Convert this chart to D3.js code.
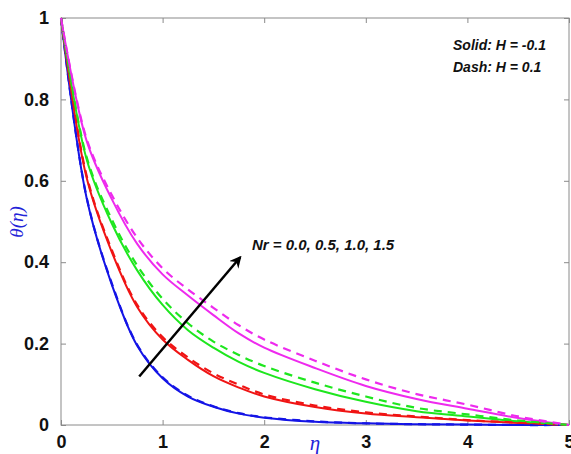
<!DOCTYPE html>
<html>
<head>
<meta charset="utf-8">
<script src="https://cdn.jsdelivr.net/npm/d3@7"></script>
<style>
  body { margin: 0; background: #fff; }
  svg { display: block; }
</style>
</head>
<body>
<svg id="chart" width="571" height="454"></svg>
<script>
// eta grid
const eta = [0, 0.25, 0.5, 0.75, 1, 1.25, 1.5, 1.75, 2, 2.5, 3, 3.5, 4, 4.5, 5];

// Solid: H = -0.1
const nr00Solid = [1, 0.56, 0.345, 0.195, 0.115, 0.07, 0.045, 0.028, 0.018, 0.008, 0.004, 0.002, 0.001, 0, 0];
const nr05Solid = [1, 0.61, 0.425, 0.29, 0.21, 0.16, 0.12, 0.092, 0.07, 0.044, 0.028, 0.019, 0.011, 0.005, 0];
const nr10Solid = [1, 0.655, 0.495, 0.38, 0.295, 0.233, 0.19, 0.155, 0.128, 0.088, 0.057, 0.034, 0.021, 0.009, 0];
const nr15Solid = [1, 0.7, 0.555, 0.445, 0.37, 0.318, 0.27, 0.225, 0.19, 0.14, 0.096, 0.064, 0.04, 0.017, 0];

// Dash: H = 0.1
const nr00Dash = [1, 0.562, 0.348, 0.197, 0.117, 0.072, 0.046, 0.029, 0.019, 0.009, 0.004, 0.002, 0.001, 0, 0];
const nr05Dash = [1, 0.615, 0.43, 0.295, 0.216, 0.166, 0.127, 0.099, 0.075, 0.048, 0.031, 0.021, 0.012, 0.006, 0];
const nr10Dash = [1, 0.66, 0.505, 0.392, 0.31, 0.25, 0.205, 0.172, 0.145, 0.104, 0.07, 0.042, 0.026, 0.011, 0];
const nr15Dash = [1, 0.705, 0.565, 0.46, 0.385, 0.333, 0.288, 0.245, 0.21, 0.158, 0.112, 0.076, 0.05, 0.021, 0];

const seriesColors = ["#1414e6", "#f01414", "#1ee61e", "#ee2aee"];
const solidSeries = [nr00Solid, nr05Solid, nr10Solid, nr15Solid];
const dashSeries = [nr00Dash, nr05Dash, nr10Dash, nr15Dash];

const xTicks = [0, 1, 2, 3, 4, 5];
const yTicks = [0, 0.2, 0.4, 0.6, 0.8, 1];

// arrow across the curves (data coords)
const arrowFrom = [0.77, 0.119];
const arrowTo = [1.764, 0.412];

const svg = d3.select("#chart");
const margin = { left: 61, top: 18, right: 2, bottom: 29 };
const width = 571 - margin.left - margin.right,
  height = 454 - margin.top - margin.bottom;

const x = d3.scaleLinear().domain([0, 5]).range([margin.left, margin.left + width]);
const y = d3.scaleLinear().domain([0, 1]).range([margin.top + height, margin.top]);

const axisColor = "#8a8a8a";
const tickFont = "'Liberation Sans', Arial, sans-serif";

// box
svg.append("rect")
  .attr("x", x(0)).attr("y", y(1))
  .attr("width", x(5) - x(0)).attr("height", y(0) - y(1))
  .attr("fill", "none").attr("stroke", axisColor).attr("stroke-width", 1);

function styleAxis(g) {
  g.select(".domain").remove();
  g.selectAll(".tick line").attr("stroke", axisColor);
  g.selectAll(".tick text")
    .attr("fill", "#111")
    .attr("font-family", tickFont)
    .attr("font-weight", "bold")
    .attr("font-size", 18);
}

svg.append("g")
  .attr("transform", `translate(0,${y(0)})`)
  .call(d3.axisBottom(x).tickValues(xTicks).tickSize(-5).tickPadding(10).tickFormat(d3.format("d")))
  .call(styleAxis);
svg.append("g")
  .attr("transform", `translate(0,${y(1)})`)
  .call(d3.axisTop(x).tickValues(xTicks).tickSize(-5).tickFormat(""))
  .call(styleAxis);
svg.append("g")
  .attr("transform", `translate(${x(0)},0)`)
  .call(d3.axisLeft(y).tickValues(yTicks).tickSize(-5).tickPadding(12).tickFormat((d) => (d === 0 || d === 1 ? d : d3.format(".1f")(d))))
  .call(styleAxis);
svg.append("g")
  .attr("transform", `translate(${x(5)},0)`)
  .call(d3.axisRight(y).tickValues(yTicks).tickSize(-5).tickFormat(""))
  .call(styleAxis);

// curves
const line = d3.line()
  .x((d, i) => x(eta[i]))
  .y((d) => y(d))
  .curve(d3.curveCatmullRom.alpha(0.5));

const plot = svg.append("g");
solidSeries.forEach((s, i) => {
  plot.append("path")
    .attr("d", line(s))
    .attr("fill", "none")
    .attr("stroke", seriesColors[i])
    .attr("stroke-width", 2);
});
dashSeries.forEach((s, i) => {
  plot.append("path")
    .attr("d", line(s))
    .attr("fill", "none")
    .attr("stroke", seriesColors[i])
    .attr("stroke-width", 2.2)
    .attr("stroke-dasharray", "8,6");
});

// arrow
svg.append("defs").append("marker")
  .attr("id", "arrowhead")
  .attr("viewBox", "0 0 12 12")
  .attr("refX", 10).attr("refY", 6)
  .attr("markerWidth", 12).attr("markerHeight", 12)
  .attr("markerUnits", "userSpaceOnUse")
  .attr("orient", "auto")
  .append("path")
  .attr("d", "M0,0 L12,6 L0,12 L4,6 Z")
  .attr("fill", "#000");

svg.append("line")
  .attr("x1", x(arrowFrom[0])).attr("y1", y(arrowFrom[1]))
  .attr("x2", x(arrowTo[0])).attr("y2", y(arrowTo[1]))
  .attr("stroke", "#000")
  .attr("stroke-width", 2.5)
  .attr("marker-end", "url(#arrowhead)");

// annotations
const noteFont = "'Liberation Sans', Arial, sans-serif";
svg.append("text")
  .attr("x", 252).attr("y", 250)
  .attr("font-family", noteFont).attr("font-weight", "bold").attr("font-style", "italic")
  .attr("font-size", 15).attr("fill", "#111")
  .text("Nr = 0.0, 0.5, 1.0, 1.5");

svg.append("text")
  .attr("x", 453).attr("y", 50)
  .attr("font-family", noteFont).attr("font-weight", "bold").attr("font-style", "italic")
  .attr("font-size", 14).attr("fill", "#111")
  .text("Solid: H = -0.1");
svg.append("text")
  .attr("x", 453).attr("y", 72)
  .attr("font-family", noteFont).attr("font-weight", "bold").attr("font-style", "italic")
  .attr("font-size", 14).attr("fill", "#111")
  .text("Dash: H = 0.1");

// axis labels
svg.append("text")
  .attr("x", 315).attr("y", 450)
  .attr("text-anchor", "middle")
  .attr("font-family", "'Liberation Serif', 'Times New Roman', serif")
  .attr("font-style", "italic").attr("font-size", 21)
  .attr("fill", "#2323d8")
  .text("η");

svg.append("text")
  .attr("transform", "translate(23,222) rotate(-90)")
  .attr("text-anchor", "middle")
  .attr("font-family", "'Liberation Serif', 'Times New Roman', serif")
  .attr("font-style", "italic").attr("font-size", 19)
  .attr("fill", "#2323d8")
  .text("θ(η)");
</script>
</body>
</html>
